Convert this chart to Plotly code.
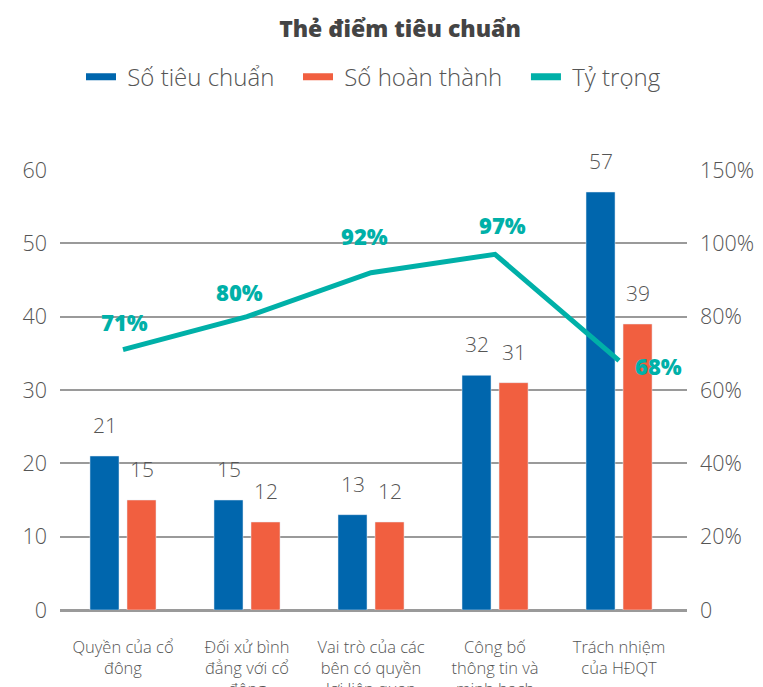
import plotly.graph_objects as go

# ---- data ----
categories = [
    "Quyền của cổ<br>đông",
    "Đối xử bình<br>đẳng với cổ<br>đông",
    "Vai trò của các<br>bên có quyền<br>lợi liên quan",
    "Công bố<br>thông tin và<br>minh bạch",
    "Trách nhiệm<br>của HĐQT",
]
so_tieu_chuan = [21, 15, 13, 32, 57]
so_hoan_thanh = [15, 12, 12, 31, 39]
ty_trong = [0.71, 0.80, 0.92, 0.97, 0.68]

left_tickvals = [0, 10, 20, 30, 40, 50, 60]
right_tickvals = [0, 0.2, 0.4, 0.6, 0.8, 1.0, 1.2]
right_ticktext = ["0", "20%", "40%", "60%", "80%", "100%", "150%"]

# ---- styles ----
BLUE = "#0066AD"
ORANGE = "#F15F40"
TEAL = "#00B0A8"
GREY = "#555555"
FONT = "Open Sans"
NB = "\u00a0"

pct_dx = [1, -8, -7, 7, 39]
pct_dy = [28, 25, 37, 29, -5]

fig = go.Figure()
fig.add_trace(go.Bar(x=categories, y=so_tieu_chuan, marker_color=BLUE,
                     name="Số tiêu chuẩn", showlegend=False, yaxis="y"))
fig.add_trace(go.Bar(x=categories, y=so_hoan_thanh, marker_color=ORANGE,
                     name="Số hoàn thành", showlegend=False, yaxis="y"))
fig.add_trace(go.Scatter(x=categories, y=ty_trong, mode="lines",
                         line=dict(color=TEAL, width=5), name="Tỷ trọng",
                         showlegend=False, yaxis="y2"))

# legend entries (line swatches)
legend_items = [(NB + "Số tiêu chuẩn" + NB * 3, BLUE),
                (NB + "Số hoàn thành" + NB * 3, ORANGE),
                (NB + "Tỷ trọng", TEAL)]
for nm, col in legend_items:
    fig.add_trace(go.Scatter(x=[None], y=[None], mode="lines",
                             line=dict(color=col, width=7), name=nm, yaxis="y"))

lab_font = dict(size=21, color=GREY, family=FONT, weight=300)
annotations = []
for c, v in zip(categories, so_tieu_chuan):
    annotations.append(dict(x=c, y=v, xref="x", yref="y", text=str(v), showarrow=False,
                            xshift=-18.5, yshift=31, font=lab_font))
for c, v in zip(categories, so_hoan_thanh):
    annotations.append(dict(x=c, y=v, xref="x", yref="y", text=str(v), showarrow=False,
                            xshift=18.5, yshift=31, font=lab_font))
for c, v, dx, dy in zip(categories, ty_trong, pct_dx, pct_dy):
    annotations.append(dict(x=c, y=v, xref="x", yref="y2", text="%d%%" % round(v * 100),
                            showarrow=False, xshift=dx, yshift=dy,
                            font=dict(size=22, color=TEAL, family=FONT, weight=800)))

W, H = 755, 679  # page has an 8px body margin

fig.update_layout(
    width=W, height=H,
    margin=dict(l=52, r=76, t=162, b=77),
    paper_bgcolor="white", plot_bgcolor="white",
    font=dict(family=FONT, color=GREY),
    title=dict(text="Thẻ điểm tiêu chuẩn", x=392 / W, xanchor="center",
               xref="container", y=1 - 21 / H, yref="container", yanchor="middle",
               font=dict(size=23, color="#444444", family=FONT, weight=800)),
    barmode="group", bargap=0.403, bargroupgap=0.216,
    showlegend=True,
    legend=dict(orientation="h", x=0.5, xanchor="center", y=1.211, yanchor="middle",
                font=dict(size=24, color=GREY, family=FONT, weight=300), itemwidth=30,
                bgcolor="rgba(0,0,0,0)"),
    xaxis=dict(type="category", range=[-0.508, 4.548], showgrid=False, showline=False,
               ticks="", tickfont=dict(size=16.5, color=GREY, family=FONT, weight=300),
               ticklabelstandoff=25, automargin=False),
    yaxis=dict(range=[0, 60], tickvals=left_tickvals, showgrid=True, gridcolor="#9a9a9a",
               gridwidth=1.5, zeroline=True, zerolinecolor="#9a9a9a", zerolinewidth=2.5,
               ticks="", ticklabelstandoff=12,
               tickfont=dict(size=21.5, color=GREY, family=FONT, weight=300),
               automargin=False),
    yaxis2=dict(range=[0, 1.2], tickvals=right_tickvals, ticktext=right_ticktext,
                overlaying="y", side="right", showgrid=False, zeroline=False,
                ticks="", ticklabelstandoff=12,
                tickfont=dict(size=21.5, color=GREY, family=FONT, weight=300),
                automargin=False),
    annotations=annotations,
)

fig.write_html("out.html")
